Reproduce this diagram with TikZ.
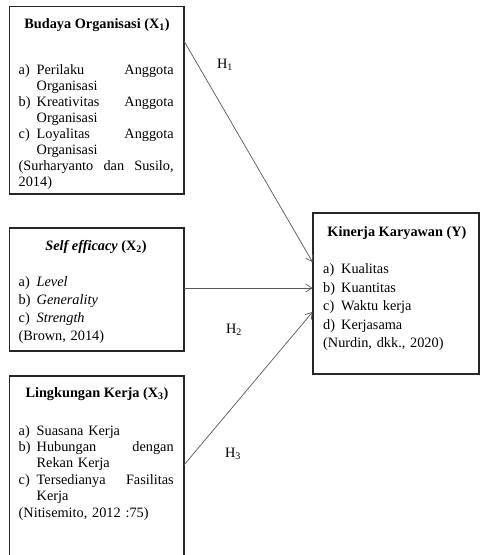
\documentclass[tikz,border=0pt]{standalone}
\usepackage{fontspec}
\setmainfont{Liberation Serif}
\usetikzlibrary{arrows.meta,calc}
\newcommand{\itm}[2]{\makebox[18pt][l]{#1}#2}
\newcommand{\cont}{\hspace*{18pt}}
\begin{document}
\begin{tikzpicture}[x=1pt,y=-1pt,
  box/.style={draw=black!85, line width=1.2pt, rectangle, inner sep=0pt, outer sep=0pt, anchor=north west},
  conn/.style={draw=black!65, line width=0.7pt, -{Straight Barb[length=6pt,width=8pt]}},
  ttl/.style={anchor=base, inner sep=0pt, font=\bfseries\fontsize{14.3}{16}\selectfont},
  body/.style={anchor=base west, text width=155pt, align=left, inner sep=0pt, font=\fontsize{14.3}{#1}\selectfont},
  hl/.style={anchor=base, inner sep=0pt, font=\fontsize{14.3}{16}\selectfont}]
\path[use as bounding box] (0,0) rectangle (480,555);
\fill[white] (0,0) rectangle (480,555);
\clip (0,0) rectangle (480,555);

% boxes
\node[box, minimum width=174.5pt, minimum height=187.5pt] (b1) at (9.5,6.5) {};
\node[box, minimum width=174.5pt, minimum height=123pt] (b2) at (9.5,228) {};
\node[box, minimum width=174.5pt, minimum height=200pt] (b3) at (9.5,376) {};
\node[box, minimum width=166pt, minimum height=161pt] (y) at (313,213) {};

% box 1
\node[ttl] (t1) at (97,28) {Budaya Organisasi (X\textsubscript{1})};
\node[body=16pt] (c1) at (18.5,74) {%
\itm{a)}{Perilaku\hfill Anggota}\\
\cont Organisasi\\
\itm{b)}{Kreativitas\hfill Anggota}\\
\cont Organisasi\\
\itm{c)}{Loyalitas\hfill Anggota}\\
\cont Organisasi\\
(Surharyanto\hfill dan\hfill Susilo,\\
2014)};

% box 2
\node[ttl] (t2) at (96,250) {\textit{Self efficacy} (X\textsubscript{2})};
\node[body=18.3pt] (c2) at (18.5,286) {%
\itm{a)}{\textit{Level}}\\
\itm{b)}{\textit{Generality}}\\
\itm{c)}{\textit{Strength}}\\
(Brown, 2014)};

% box 3
\node[ttl] (t3) at (97,397) {Lingkungan Kerja (X\textsubscript{3})};
\node[body=16.4pt] (c3) at (18.5,435) {%
\itm{a)}{Suasana Kerja}\\
\itm{b)}{Hubungan\hfill dengan}\\
\cont Rekan Kerja\\
\itm{c)}{Tersedianya\hfill Fasilitas}\\
\cont Kerja\\
(Nitisemito, 2012 :75)};

% box Y
\node[ttl] (ty) at (397,236) {Kinerja Karyawan (Y)};
\node[body=18.5pt] (cy) at (323,273.5) {%
\itm{a)}{Kualitas}\\
\itm{b)}{Kuantitas}\\
\itm{c)}{Waktu kerja}\\
\itm{d)}{Kerjasama}\\
(Nurdin, dkk., 2020)};

% connectors
\coordinate (s1) at ($(b1.north east)+(0,34.5)$);
\coordinate (s2) at ($(b2.north east)+(0,60)$);
\coordinate (s3) at ($(b3.north east)+(0,89)$);
\coordinate (e1) at ($(y.north west)+(-0.5,49)$);
\coordinate (e2) at ($(y.north west)+(-0.5,75)$);
\coordinate (e3) at ($(y.north west)+(-0.5,99)$);
\draw[conn] (s1) -- (e1);
\draw[conn] (s2) -- (e2);
\draw[conn] (s3) -- (e3);

% labels
\node[hl] (h1) at (225,68) {H\textsubscript{1}};
\node[hl] (h2) at (234,333) {H\textsubscript{2}};
\node[hl] (h3) at (233,457) {H\textsubscript{3}};
\end{tikzpicture}
\end{document}
